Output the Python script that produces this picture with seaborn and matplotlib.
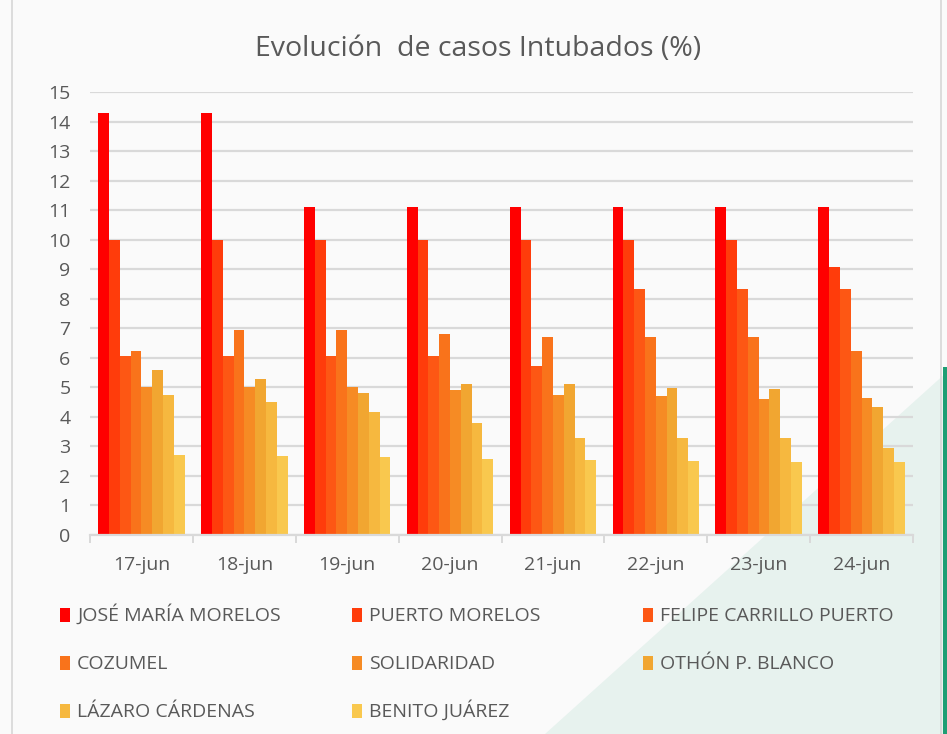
import matplotlib
matplotlib.use("Agg")
import matplotlib.pyplot as plt
import matplotlib.patches as mpatches
from matplotlib import font_manager
import seaborn as sns
import pandas as pd
import numpy as np

# Datos
fechas = ["17-jun", "18-jun", "19-jun", "20-jun", "21-jun", "22-jun", "23-jun", "24-jun"]
municipios = ["JOSÉ MARÍA MORELOS", "PUERTO MORELOS", "FELIPE CARRILLO PUERTO",
              "COZUMEL", "SOLIDARIDAD", "OTHÓN P. BLANCO",
              "LÁZARO CÁRDENAS", "BENITO JUÁREZ"]
jose_maria_morelos = [14.29, 14.29, 11.11, 11.11, 11.11, 11.11, 11.11, 11.11]
puerto_morelos = [10.0, 10.0, 10.0, 10.0, 10.0, 10.0, 10.0, 9.09]
felipe_carrillo = [6.06, 6.06, 6.06, 6.06, 5.71, 8.33, 8.33, 8.33]
cozumel = [6.22, 6.94, 6.94, 6.82, 6.72, 6.72, 6.72, 6.22]
solidaridad = [5.0, 5.02, 5.02, 4.9, 4.73, 4.7, 4.6, 4.64]
othon_blanco = [5.58, 5.27, 4.82, 5.1, 5.1, 4.97, 4.93, 4.32]
lazaro_cardenas = [4.73, 4.52, 4.15, 3.8, 3.3, 3.3, 3.3, 2.94]
benito_juarez = [2.72, 2.66, 2.63, 2.58, 2.55, 2.5, 2.47, 2.46]

colores = ["#FF0000", "#FF3C0B", "#FD5714", "#F9731B", "#F68B24",
           "#F1A631", "#F6B83F", "#F9C84E"]

series = [jose_maria_morelos, puerto_morelos, felipe_carrillo, cozumel,
          solidaridad, othon_blanco, lazaro_cardenas, benito_juarez]
filas = []
for nombre, valores in zip(municipios, series):
    for f, v in zip(fechas, valores):
        filas.append({"fecha": f, "municipio": nombre, "valor": v})
df = pd.DataFrame(filas)

instaladas = {f.name for f in font_manager.fontManager.ttflist}
fuente = "Open Sans" if "Open Sans" in instaladas else "DejaVu Sans"

sns.set_theme(style="white")
plt.rcParams["font.family"] = [fuente, "DejaVu Sans"]

gris = "#595959"
W, H = 947, 734
fig = plt.figure(figsize=(9.47, 7.34), dpi=100, facecolor="#FAFAFA")

# Fondo decorativo de la diapositiva
fig.patches.append(mpatches.Polygon([[545 / W, 0], [1, 0], [1, 1 - 372 / H]],
                                    closed=True, transform=fig.transFigure,
                                    facecolor="#E7F2EE", edgecolor="none", zorder=-2))
fig.patches.append(mpatches.Rectangle((943 / W, 0), 4 / W, 1 - 367 / H,
                                      transform=fig.transFigure,
                                      facecolor="#1E9E74", edgecolor="none", zorder=-1))
fig.lines.append(plt.Line2D([12 / W, 12 / W], [0, 1], transform=fig.transFigure,
                            color="#D6D6D6", linewidth=1.2))
fig.lines.append(plt.Line2D([941 / W, 941 / W], [0, 1], transform=fig.transFigure,
                            color="#D6D6D6", linewidth=1.2))

ax = fig.add_axes([90 / W, 1 - 535 / H, 823 / W, 443 / H])
ax.set_facecolor("none")

sns.barplot(data=df, x="fecha", y="valor", hue="municipio", hue_order=municipios,
            order=fechas, palette=colores, width=0.84, gap=0, saturation=1,
            edgecolor="none", linewidth=0, ax=ax, legend=False)

ax.set_ylim(0, 15)
ax.set_xlim(-0.5, 7.5)
ax.set_yticks(range(0, 16))
ax.yaxis.grid(True, color="#D9D9D9", linewidth=1.6)
ax.set_axisbelow(True)
for lado in ["top", "right", "left"]:
    ax.spines[lado].set_visible(False)
ax.spines["bottom"].set_color("#D9D9D9")
ax.spines["bottom"].set_linewidth(1.6)

ax.set_xticks(np.arange(-0.5, 8, 1), minor=True)
ax.tick_params(axis="x", which="minor", length=6, width=1.4, color="#D9D9D9", bottom=True)
ax.tick_params(axis="x", which="major", length=0, pad=15, labelsize=14, labelcolor=gris)
ax.tick_params(axis="y", length=0, pad=14, labelsize=14, labelcolor=gris)
ax.set_xlabel("")
ax.set_ylabel("")

fig.text(0.505, 1 - 49 / H, "Evolución  de casos Intubados (%)", ha="center", va="center",
         fontsize=20.5, color=gris)

# Leyenda en 3 columnas de ancho fijo (orden por filas), alineada por línea base
x_marca = [60, 352, 643]
base_filas = [621, 669, 717]
for i, (nombre, color) in enumerate(zip(municipios, colores)):
    fila, col = divmod(i, 3)
    xm, yb = x_marca[col], base_filas[fila]
    fig.patches.append(mpatches.Rectangle((xm / W, 1 - (yb + 1) / H), 10 / W, 14 / H,
                                          transform=fig.transFigure,
                                          facecolor=color, edgecolor="none"))
    fig.text((xm + 17) / W, 1 - yb / H, nombre, ha="left", va="baseline",
             fontsize=14, color=gris)

fig.savefig("out.png", dpi=100, facecolor=fig.get_facecolor())
